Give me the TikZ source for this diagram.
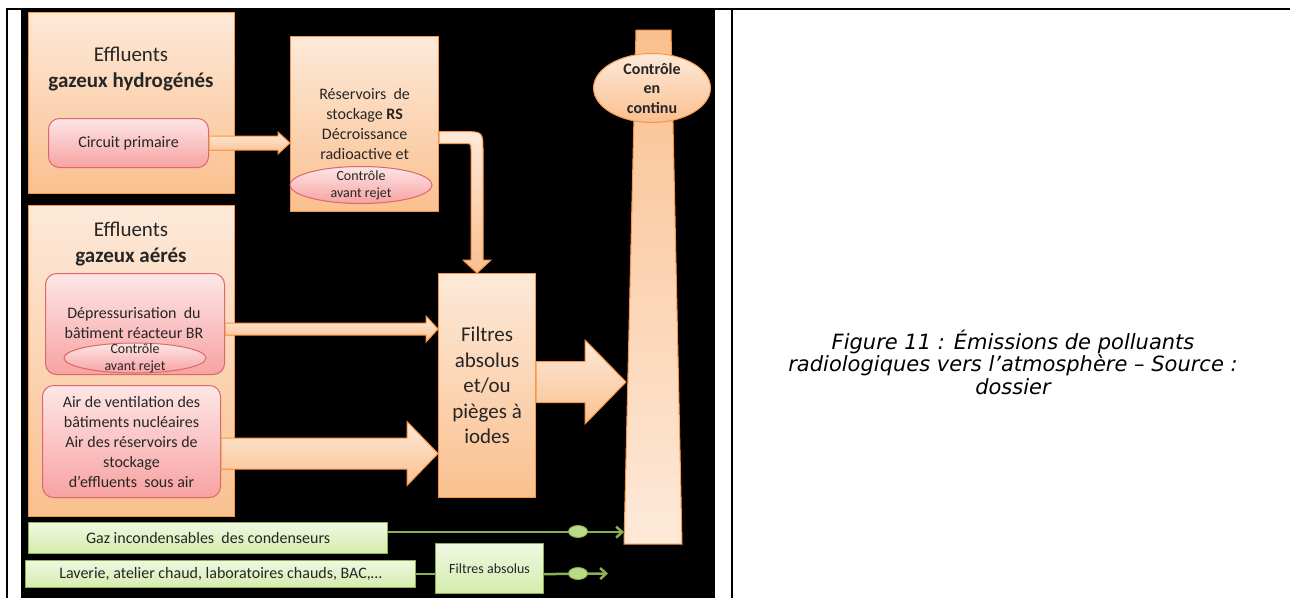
\documentclass[tikz,border=0pt]{standalone}
\usepackage{fontspec}
\setmainfont{Carlito}
\newfontfamily\captionfont{DejaVu Sans}
\usepackage{tikz}
\usetikzlibrary{shapes.geometric, arrows.meta, positioning, calc}

\definecolor{boxorange}{HTML}{F79646}
\definecolor{orangetop}{HTML}{FDE9D9}
\definecolor{orangebot}{HTML}{FAC08F}
\definecolor{pinkline}{HTML}{D9696A}
\definecolor{pinktop}{HTML}{FDE6E6}
\definecolor{pinkbot}{HTML}{F8A2A2}
\definecolor{greenline}{HTML}{8CB050}
\definecolor{greentop}{HTML}{F0F8E2}
\definecolor{greenbot}{HTML}{D4ECAC}
\definecolor{greenfill}{HTML}{B9DA86}
\definecolor{inktext}{HTML}{262626}

\begin{document}
\begin{tikzpicture}[x=1pt, y=-1pt,
    orangebox/.style={draw=boxorange, line width=1.2pt, top color=orangetop, bottom color=orangebot,
        inner sep=0pt, anchor=north west, align=center, text=inktext},
    pinkbox/.style={draw=pinkline, line width=1pt, rounded corners=11pt, top color=pinktop, bottom color=pinkbot,
        inner sep=0pt, anchor=north west, align=center, text=inktext},
    greenbox/.style={draw=greenline, line width=1.2pt, top color=greentop, bottom color=greenbot,
        inner sep=0pt, anchor=north west, align=center, text=inktext},
    ctlell/.style={ellipse, draw=pinkline, line width=1pt, top color=pinktop, bottom color=pinkbot, inner sep=0pt},
    ctltext/.style={align=center, text=inktext, font=\fontsize{14}{17}\selectfont},
    blockarrow/.style={draw=boxorange, line width=1pt, top color=orangetop, bottom color=orangebot},
    greenwire/.style={draw=greenline, line width=2.5pt},
    greendot/.style={ellipse, draw=greenline, line width=0.8pt, fill=greenfill, minimum width=19, minimum height=12, inner sep=0pt},
    txt/.style={font=\fontsize{16}{20}\selectfont},
    big/.style={font=\fontsize{21}{26}\selectfont}]

    \useasboundingbox (0,0) rectangle (1290,598);

    % Table frame and black panel
    \fill[white] (0,0) rectangle (1290,598);
    \fill[black] (21,10) rectangle (715,598);
    \draw[line width=2pt] (7,598) -- (7,9) -- (1290,9);
    \draw[line width=2pt] (732,9) -- (732,598);

    % Effluents gazeux hydrogenes
    \node[orangebox, minimum width=206, minimum height=181] (hyd) at (28,12) {};
    \node[big, align=center, text=inktext] (hydtxt) at (131,69) {Effluents\\\textbf{gazeux hydrogénés}};
    \node[pinkbox, txt, minimum width=160, minimum height=49] (circ) at (48,118) {Circuit primaire};

    % Reservoirs de stockage
    \node[orangebox, txt, minimum width=148, minimum height=175] (res) at (290,36)
        {Réservoirs~~de\\stockage \textbf{RS}\\Décroissance\\radioactive et};
    \node[ctlell, minimum width=142, minimum height=37] (resctl) at (361,185) {};
    \node[ctltext] (resctltxt) at (resctl) {Contrôle\\avant rejet};

    % Effluents gazeux aeres
    \node[orangebox, minimum width=206, minimum height=311] (aer) at (28,205) {};
    \node[big, align=center, text=inktext] (aertxt) at (131,244) {Effluents\\\textbf{gazeux aérés}};
    \node[pinkbox, txt, minimum width=179, minimum height=101] (dep) at (45,273) {};
    \node[txt, align=center, text=inktext] (deptxt) at (134,323) {Dépressurisation~~du\\bâtiment réacteur BR};
    \node[ctlell, minimum width=142, minimum height=30] (depctl) at (135,358) {};
    \node[ctltext] (depctltxt) at (135,358) {Contrôle\\avant rejet};
    \node[pinkbox, txt, minimum width=178, minimum height=112] (air) at (42,385)
        {Air de ventilation des\\bâtiments nucléaires\\Air des réservoirs de\\stockage\\d’effluents~~sous air};

    % Filtres
    \node[orangebox, minimum width=97, minimum height=224, font=\fontsize{21}{25.5}\selectfont] (filt) at (438,273)
        {Filtres\\absolus\\et/ou\\pièges à\\iodes};

    % Cheminee
    \coordinate (chimtl) at (636,30);
    \coordinate (chimtr) at (671,30);
    \coordinate (chimbr) at (682,544);
    \coordinate (chimbl) at (624,544);
    \filldraw[draw=boxorange, line width=1pt, top color=orangebot, bottom color=orangetop]
        (chimtl) -- (chimtr) -- (chimbr) -- (chimbl) -- cycle;
    \node[ellipse, draw=boxorange, line width=1pt, top color=orangetop, bottom color=orangebot,
        minimum width=117, minimum height=69, inner sep=0pt] (chimctl) at (652,88) {};
    \node[align=center, text=inktext, font=\fontsize{16}{19.5}\selectfont\bfseries] (chimctltxt) at (chimctl) {Contrôle\\en\\continu};
    \coordinate (chimin) at (626,382);
    \coordinate (chimgaz) at (624,531.5);

    % Fleches
    \coordinate (a1s) at (circ.east);
    \coordinate (a1e) at (res.west |- circ.east);
    \filldraw[blockarrow] ($(a1s)+(0,-7)$) -- ($(a1e)+(-12,-7)$) -- ($(a1e)+(-12,-11)$) -- (a1e)
        -- ($(a1e)+(-12,11)$) -- ($(a1e)+(-12,7)$) -- ($(a1s)+(0,7)$) -- cycle;

    \coordinate (a2s) at ($(res.east)+(0,13.5)$);
    \coordinate (a2e) at ($(filt.north west)+(39,0)$);
    \coordinate (a2c) at (a2e |- a2s);
    \filldraw[blockarrow] ($(a2s)+(0,-6)$) -- ($(a2c)+(-14,-6)$) .. controls ($(a2c)+(6,-6)$) .. ($(a2c)+(6,14)$)
        -- ($(a2e)+(6,-13)$) -- ($(a2e)+(14,-13)$) -- (a2e) -- ($(a2e)+(-14,-13)$) -- ($(a2e)+(-6,-13)$)
        -- ($(a2c)+(-6,12)$) .. controls ($(a2c)+(-6,6)$) .. ($(a2c)+(-12,6)$) -- ($(a2s)+(0,6)$) -- cycle;

    \coordinate (a3s) at ($(dep.east)+(0,5)$);
    \coordinate (a3e) at (filt.west |- a3s);
    \filldraw[blockarrow] ($(a3s)+(0,-6)$) -- ($(a3e)+(-12,-6)$) -- ($(a3e)+(-12,-13)$) -- (a3e)
        -- ($(a3e)+(-12,13)$) -- ($(a3e)+(-12,6)$) -- ($(a3s)+(0,6)$) -- cycle;

    \coordinate (a4s) at ($(air.east)+(0,12)$);
    \coordinate (a4e) at (filt.west |- a4s);
    \filldraw[blockarrow] ($(a4s)+(0,-15.5)$) -- ($(a4e)+(-31,-15.5)$) -- ($(a4e)+(-31,-32)$) -- (a4e)
        -- ($(a4e)+(-31,32)$) -- ($(a4e)+(-31,15.5)$) -- ($(a4s)+(0,15.5)$) -- cycle;

    \coordinate (a5s) at (filt.east |- chimin);
    \filldraw[blockarrow] ($(a5s)+(0,-20.5)$) -- ($(chimin)+(-41,-20.5)$) -- ($(chimin)+(-41,-42)$) -- (chimin)
        -- ($(chimin)+(-41,42)$) -- ($(chimin)+(-41,20.5)$) -- ($(a5s)+(0,20.5)$) -- cycle;

    % Effluents en ligne verte
    \node[greenbox, txt, minimum width=359, minimum height=31] (gaz) at (28,522) {Gaz incondensables~~des condenseurs};
    \node[greenbox, txt, minimum width=390, minimum height=27] (lav) at (25,560) {Laverie, atelier chaud, laboratoires chauds, BAC,…};
    \node[greenbox, minimum width=108, minimum height=50, font=\fontsize{14}{17}\selectfont] (fabs) at (435,543) {Filtres absolus};
    \coordinate (g1s) at ($(gaz.east)+(0,-6)$);
    \coordinate (lavend) at (608,573.5);
    \draw[greenwire, -{Straight Barb[length=6pt,width=11pt]}] (g1s) -- (g1s -| chimgaz);
    \draw[greenwire] (lav.east) -- (fabs.west |- lav.east);
    \draw[greenwire, -{Straight Barb[length=6pt,width=11pt]}] (fabs.east |- lav.east) -- (lavend);
    \node[greendot] (dot1) at (578,531.5) {};
    \node[greendot] (dot2) at (578,573.5) {};

    % Legende
    \node[align=center, font={\captionfont\itshape\fontsize{21}{22.5}\selectfont}] (cap) at (1013,362)
        {Figure 11 : Émissions de polluants\\radiologiques vers l’atmosphère – Source :\\dossier};
\end{tikzpicture}
\end{document}
